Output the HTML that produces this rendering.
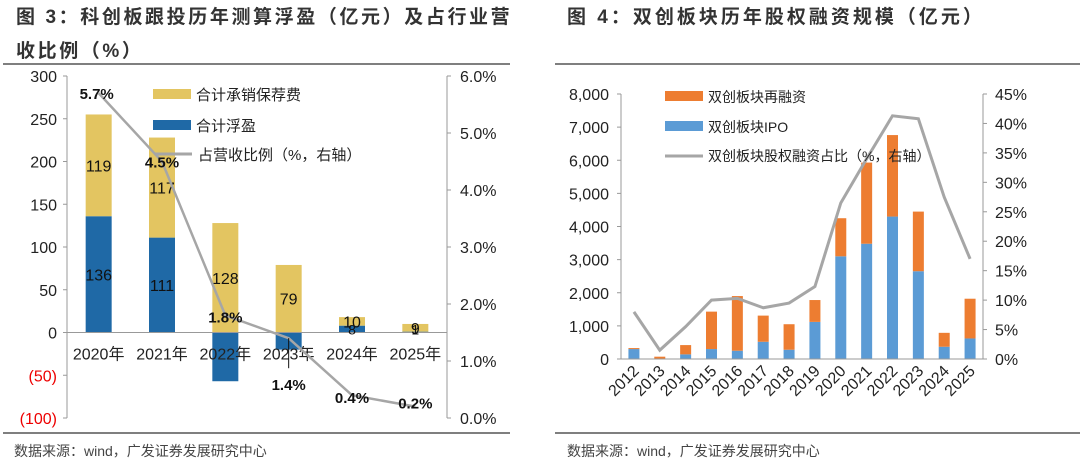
<!DOCTYPE html>
<html><head><meta charset="utf-8">
<style>
body{margin:0;background:#fff;}
svg{display:block;font-family:"Liberation Sans","Noto Sans CJK SC",sans-serif;}
</style></head>
<body>
<svg id="svg" width="1080" height="472" viewBox="0 0 1080 472" xmlns="http://www.w3.org/2000/svg">
<g font-weight="bold" font-size="19" fill="#333" letter-spacing="2.6">
<text x="16" y="23">图  3：科创板跟投历年测算浮盈（亿元）及占行业营</text>
<text x="16" y="57">收比例（%）</text>
</g>
<text x="567" y="23" font-weight="bold" font-size="19" fill="#333" letter-spacing="3">图  4：双创板块历年股权融资规模（亿元）</text>
<line x1="3" y1="64" x2="510" y2="64" stroke="#555" stroke-width="1.5"/>
<line x1="555" y1="64" x2="1080" y2="64" stroke="#555" stroke-width="1.5"/>
<line x1="3" y1="433" x2="510" y2="433" stroke="#555" stroke-width="1.5"/>
<line x1="555" y1="433" x2="1080" y2="433" stroke="#555" stroke-width="1.5"/>
<text x="14" y="456" font-size="14" fill="#444">数据来源：wind，广发证券发展研究中心</text>
<text x="567" y="456" font-size="14" fill="#444">数据来源：wind，广发证券发展研究中心</text>
<g id="left"></g>
<g id="right"></g>
</svg>
<script>
const lCats=["2020年","2021年","2022年","2023年","2024年","2025年"];
const lFloat=[136,111,-57,-20,8,1];
const lFee=[119,117,128,79,10,9];
const lPct=[5.7,4.5,1.8,1.4,0.4,0.2];
const lLeftTicks=[300,250,200,150,100,50,0,-50,-100];
const lRightTicks=[0,1,2,3,4,5,6];

const rCats=["2012","2013","2014","2015","2016","2017","2018","2019","2020","2021","2022","2023","2024","2025"];
const rIPO=[300,0,140,300,250,520,280,1120,3100,3480,4300,2650,370,620];
const rRefi=[30,70,280,1130,1650,790,770,660,1150,2450,2460,1800,420,1200];
const rPct=[8,1.5,5.5,10,10.3,8.7,9.5,12.3,26.5,34,41.3,40.8,27.5,17];
const rLeftTicks=[0,1000,2000,3000,4000,5000,6000,7000,8000];
const rRightTicks=[0,5,10,15,20,25,30,35,40,45];

const NS="http://www.w3.org/2000/svg";
function mk(p,tag,attrs,txt){const e=document.createElementNS(NS,tag);for(const k in attrs)e.setAttribute(k,attrs[k]);if(txt!==undefined)e.textContent=txt;p.appendChild(e);return e;}

// LEFT CHART
(function(){
const g=document.getElementById('left');
const X0=67,X1=447,yTop=76,yBot=418;
const y=v=>yBot-(v+100)/400*(yBot-yTop);
const y2=v=>yBot-v/6*(yBot-yTop);
const bw=(X1-X0)/lCats.length;
const cx=i=>X0+bw*(i+0.5);
let e;
e=mk(g,'line',{x1:X0,y1:yTop,x2:X0,y2:yBot,stroke:'#999'});

e=mk(g,'line',{x1:X1,y1:yTop,x2:X1,y2:yBot,stroke:'#999'});

lLeftTicks.forEach(t=>{
 mk(g,'line',{x1:X0-4,y1:y(t),x2:X0,y2:y(t),stroke:'#999'});
 e=mk(g,'text',{x:X0-10,y:y(t)+6,'text-anchor':'end','font-size':16,fill:t<0?'#e00':'#222'},t<0?'('+(-t)+')':String(t));
 
});
lRightTicks.forEach(t=>{
 mk(g,'line',{x1:X1,y1:y2(t),x2:X1+4,y2:y2(t),stroke:'#999'});
 e=mk(g,'text',{x:X1+13,y:y2(t)+6,'font-size':16,fill:'#222'},t.toFixed(1)+'%');
 
});
const bwid=26;
lCats.forEach((c,i)=>{
 const f=lFloat[i],fee=lFee[i];
 e=mk(g,'rect',{x:cx(i)-bwid/2,y:Math.min(y(0),y(f)),width:bwid,height:Math.abs(y(f)-y(0)),fill:'#1f69a6'});
 
 const base=Math.max(f,0);
 e=mk(g,'rect',{x:cx(i)-bwid/2,y:y(base+fee),width:bwid,height:y(base)-y(base+fee),fill:'#e3c561'});
 
});
e=mk(g,'line',{x1:X0,y1:y(0),x2:X1,y2:y(0),stroke:'#999'});

lCats.forEach((c,i)=>{
 e=mk(g,'text',{x:cx(i),y:y(0)+27,'text-anchor':'middle','font-size':16,fill:'#222'},c);
 
});
lCats.forEach((c,i)=>{
 const f=lFloat[i],fee=lFee[i],base=Math.max(f,0);
 if(f>10){e=mk(g,'text',{x:cx(i),y:(y(0)+y(f))/2+6,'text-anchor':'middle','font-size':16,fill:'#111'},String(f));
 }
 if(f>=0&&f<=10){e=mk(g,'text',{x:cx(i),y:y(0)+2,'text-anchor':'middle','font-size':14,fill:'#111'},String(f));
 }
 e=mk(g,'text',{x:cx(i),y:(y(base)+y(base+fee))/2+6,'text-anchor':'middle','font-size':16,fill:'#111'},String(fee));
 
});
const pts=lPct.map((v,i)=>cx(i)+','+y2(v)).join(' ');
e=mk(g,'polyline',{points:pts,fill:'none',stroke:'#a6a6a6','stroke-width':2.5});

e=mk(g,'line',{x1:cx(3),y1:y2(lPct[3]),x2:cx(3),y2:y2(lPct[3])+30,stroke:'#111','stroke-width':1});

const offs=[[-2,0],[0,0],[0,1],[0,46],[0,2],[0,-4]];
lPct.forEach((v,i)=>{
 e=mk(g,'text',{x:cx(i)+offs[i][0],y:y2(v)+offs[i][1]+6,'text-anchor':'middle','font-size':15,'font-weight':'bold',fill:'#111'},v.toFixed(1)+'%');
 
});
e=mk(g,'rect',{x:153,y:89,width:38,height:10,fill:'#e3c561'});
e=mk(g,'text',{x:196,y:100,'font-size':15,fill:'#222'},'合计承销保荐费');
e=mk(g,'rect',{x:153,y:120,width:38,height:10,fill:'#1f69a6'});
e=mk(g,'text',{x:196,y:131,'font-size':15,fill:'#222'},'合计浮盈');
e=mk(g,'line',{x1:155,y1:154,x2:192,y2:154,stroke:'#a6a6a6','stroke-width':3});
e=mk(g,'text',{x:198,y:160,'font-size':15,fill:'#222'},'占营收比例（%，右轴）');
})();

// RIGHT CHART
(function(){
const g=document.getElementById('right');
const X0=621,X1=983,yTop=94,yBot=359;
const y=v=>yBot-v/8000*(yBot-yTop);
const y2=v=>yBot-v/45*(yBot-yTop);
const bw=(X1-X0)/rCats.length;
const cx=i=>X0+bw*(i+0.5);
let e;
e=mk(g,'line',{x1:X0,y1:yTop,x2:X0,y2:yBot,stroke:'#999'});
e=mk(g,'line',{x1:X1,y1:yTop,x2:X1,y2:yBot,stroke:'#999'});
rLeftTicks.forEach(t=>{
 mk(g,'line',{x1:X0-4,y1:y(t),x2:X0,y2:y(t),stroke:'#999'});
 e=mk(g,'text',{x:X0-12,y:y(t)+6,'text-anchor':'end','font-size':16,fill:'#222'},t.toLocaleString('en-US'));
 
});
rRightTicks.forEach(t=>{
 mk(g,'line',{x1:X1,y1:y2(t),x2:X1+4,y2:y2(t),stroke:'#999'});
 e=mk(g,'text',{x:X1+12,y:y2(t)+6,'font-size':16,fill:'#222'},t+'%');
 
});
const bwid=11;
rCats.forEach((c,i)=>{
 e=mk(g,'rect',{x:cx(i)-bwid/2,y:y(rIPO[i]),width:bwid,height:y(0)-y(rIPO[i]),fill:'#5b9bd5'});
 
 e=mk(g,'rect',{x:cx(i)-bwid/2,y:y(rIPO[i]+rRefi[i]),width:bwid,height:y(rIPO[i])-y(rIPO[i]+rRefi[i]),fill:'#ed7d31'});
 
 e=mk(g,'text',{x:0,y:0,'text-anchor':'end','font-size':16,fill:'#222',transform:`translate(${cx(i)+6},${yBot+13}) rotate(-45)`},c);
 
});
e=mk(g,'line',{x1:X0,y1:yBot,x2:X1,y2:yBot,stroke:'#999'});
const pts=rPct.map((v,i)=>cx(i)+','+y2(v)).join(' ');
e=mk(g,'polyline',{points:pts,fill:'none',stroke:'#a6a6a6','stroke-width':3});

e=mk(g,'rect',{x:665,y:91,width:38,height:10,fill:'#ed7d31'});
e=mk(g,'text',{x:708,y:102,'font-size':14,fill:'#222'},'双创板块再融资');
e=mk(g,'rect',{x:665,y:121,width:38,height:10,fill:'#5b9bd5'});
e=mk(g,'text',{x:708,y:132,'font-size':14,fill:'#222'},'双创板块IPO');
e=mk(g,'line',{x1:665,y1:156,x2:703,y2:156,stroke:'#a6a6a6','stroke-width':3});
e=mk(g,'text',{x:708,y:161,'font-size':14,fill:'#222'},'双创板块股权融资占比（%，右轴）');
})();
</script>
</body></html>
